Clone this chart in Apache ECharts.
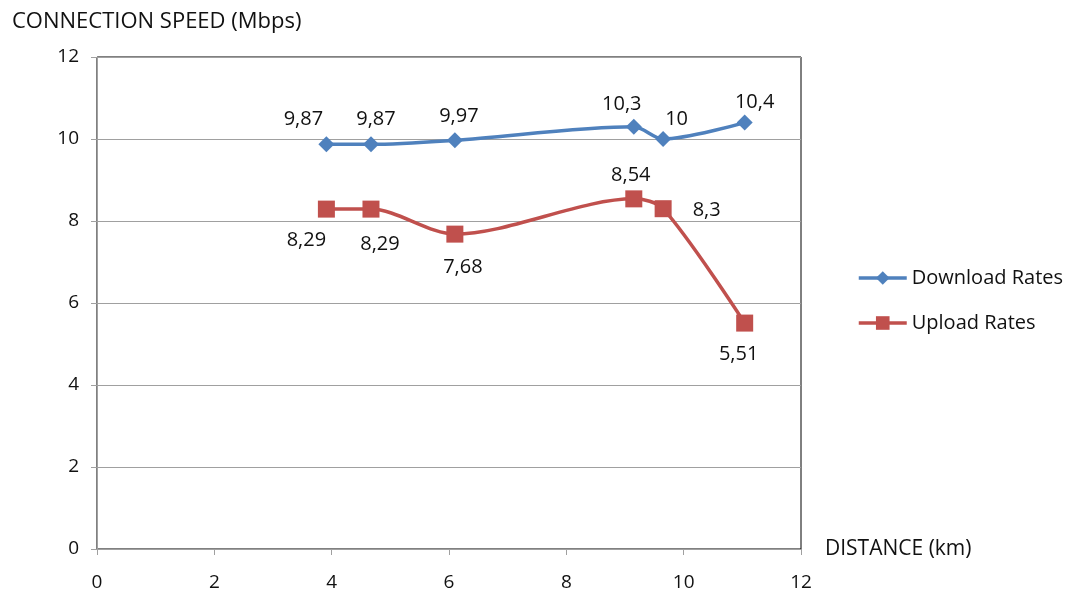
<!DOCTYPE html>
<html><head><meta charset="utf-8">
<script src="https://cdn.jsdelivr.net/npm/echarts@6/dist/echarts.min.js"></script>
<style>html,body{margin:0;padding:0;background:#fff}#c{width:1075px;height:599px}</style>
</head><body><div id="c"></div>
<script>
const distance = [3.91, 4.67, 6.1, 9.15, 9.65, 11.04];
const downloadRates = [9.87, 9.87, 9.97, 10.3, 10.0, 10.4];
const uploadRates = [8.29, 8.29, 7.68, 8.54, 8.3, 5.51];
const seriesNames = ['Download Rates', 'Upload Rates'];
const fmt = v => String(v).replace('.', ',');

const dlPos = ['top','top','top','top','right','top'];
const ulPos = ['bottom','bottom','bottom','top','right','bottom'];
const dlOff = [[-23,-2],[5,-2],[4,-1],[-12,1],[-11,-20],[10,3]];
const ulOff = [[-20,8],[9,12],[8,10],[-3,0],[16,2],[-6,8]];

function build(vals, pos, off){
  return vals.map((v,i)=>({value:[distance[i], v], label:{position:pos[i], offset:off[i]}}));
}
const font = '"Open Sans", "Noto Sans", sans-serif';
const chart = echarts.init(document.getElementById('c'));
chart.setOption({
  animation:false,
  title:{text:'CONNECTION SPEED (Mbps)', left:7, top:6, textStyle:{fontFamily:font, fontSize:22, fontWeight:'normal', color:'#111'}},
  grid:{left:97, right:274, top:57, bottom:50, show:true, borderColor:'#000', borderWidth:1},
  legend:{orient:'vertical', left:852, top:263, itemGap:25, itemWidth:48, itemHeight:17,
    lineStyle:{width:3.5},
    textStyle:{fontFamily:font, fontSize:20, color:'#111'}, data:seriesNames},
  xAxis:{type:'value', min:0, max:12, interval:2, name:'DISTANCE (km)', nameLocation:'end', nameGap:24,
    nameTextStyle:{fontFamily:font, fontSize:21, color:'#111', verticalAlign:'middle', padding:[0,0,6,0]},
    axisLine:{lineStyle:{color:'#a0a0a0', width:1}}, axisTick:{show:true, length:6, lineStyle:{color:'#a0a0a0'}},
    axisLabel:{fontFamily:font, fontSize:19, color:'#111', margin:24}, splitLine:{show:false}},
  yAxis:{type:'value', min:0, max:12, interval:2,
    axisLine:{show:true, lineStyle:{color:'#a0a0a0', width:1}}, axisTick:{show:true, length:6, lineStyle:{color:'#a0a0a0'}},
    axisLabel:{fontFamily:font, fontSize:19, color:'#111', margin:18},
    splitLine:{show:true, lineStyle:{color:'#a0a0a0', width:1}}},
  series:[
    {name:seriesNames[0], type:'line', smooth:0.3, symbol:'diamond', symbolSize:16,
     itemStyle:{color:'#4F81BD'}, lineStyle:{width:3.5, color:'#4F81BD'},
     label:{show:true, formatter:p=>fmt(p.value[1]), fontFamily:font, fontSize:20, color:'#111'},
     data:build(downloadRates, dlPos, dlOff)},
    {name:seriesNames[1], type:'line', smooth:0.3, symbol:'rect', symbolSize:17,
     itemStyle:{color:'#C0504D'}, lineStyle:{width:3.5, color:'#C0504D'},
     label:{show:true, formatter:p=>fmt(p.value[1]), fontFamily:font, fontSize:20, color:'#111'},
     data:build(uploadRates, ulPos, ulOff)}
  ]
});
</script></body></html>
